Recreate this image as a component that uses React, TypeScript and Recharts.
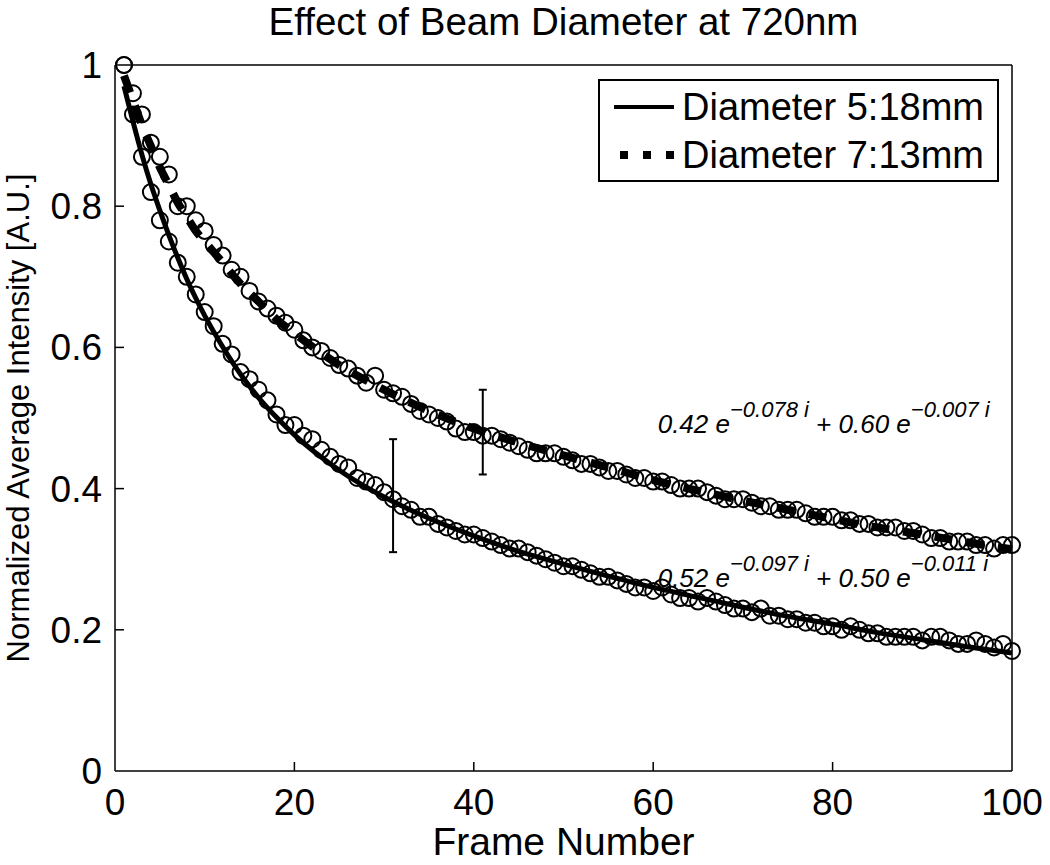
import React from 'react';
import {
  ComposedChart, Scatter, Line, XAxis, YAxis, Legend, ErrorBar, ReferenceDot,
} from 'recharts';

// frame index 1..100
const frames = Array.from({ length: 100 }, (_, i) => i + 1);

// measured intensity, beam diameter 5:18mm (lower curve)
const small = [
  1.0, 0.93, 0.87, 0.82, 0.78, 0.75, 0.72, 0.7, 0.675, 0.65,
  0.63, 0.605, 0.59, 0.565, 0.555, 0.54, 0.525, 0.505, 0.49, 0.49,
  0.475, 0.47, 0.455, 0.445, 0.435, 0.43, 0.415, 0.41, 0.405, 0.395,
  0.385, 0.375, 0.37, 0.36, 0.36, 0.35, 0.345, 0.34, 0.335, 0.335,
  0.33, 0.325, 0.32, 0.315, 0.315, 0.31, 0.305, 0.3, 0.295, 0.29,
  0.29, 0.285, 0.28, 0.275, 0.275, 0.27, 0.265, 0.26, 0.26, 0.255,
  0.26, 0.25, 0.245, 0.245, 0.24, 0.245, 0.24, 0.235, 0.23, 0.23,
  0.225, 0.23, 0.22, 0.22, 0.215, 0.215, 0.21, 0.21, 0.205, 0.205,
  0.2, 0.205, 0.2, 0.195, 0.195, 0.19, 0.19, 0.19, 0.19, 0.185,
  0.19, 0.19, 0.185, 0.18, 0.18, 0.185, 0.18, 0.175, 0.18, 0.17,
];

// measured intensity, beam diameter 7:13mm (upper curve)
const large = [
  1.0, 0.96, 0.93, 0.89, 0.87, 0.845, 0.8, 0.8, 0.78, 0.765,
  0.745, 0.73, 0.71, 0.7, 0.68, 0.665, 0.655, 0.645, 0.635, 0.625,
  0.61, 0.6, 0.595, 0.585, 0.575, 0.57, 0.56, 0.55, 0.56, 0.54,
  0.535, 0.53, 0.52, 0.51, 0.505, 0.5, 0.495, 0.485, 0.48, 0.48,
  0.475, 0.475, 0.47, 0.465, 0.46, 0.455, 0.45, 0.45, 0.45, 0.445,
  0.44, 0.435, 0.435, 0.43, 0.425, 0.425, 0.42, 0.415, 0.415, 0.41,
  0.41, 0.405, 0.4, 0.4, 0.4, 0.395, 0.39, 0.385, 0.385, 0.385,
  0.38, 0.375, 0.375, 0.37, 0.37, 0.37, 0.365, 0.36, 0.36, 0.36,
  0.355, 0.355, 0.35, 0.35, 0.345, 0.345, 0.345, 0.34, 0.34, 0.335,
  0.33, 0.33, 0.325, 0.325, 0.325, 0.32, 0.32, 0.315, 0.32, 0.32,
];

// fitted curves
const fitFrames = [1, 2, 3, 4, 5, 6, 7, 8, 9, 10, 12, 14, 16, 18, 20, 25, 30, 35, 40, 45, 50, 55, 60, 65, 70, 75, 80, 85, 90, 95, 100];
const fitSmall = [0.97, 0.92, 0.873, 0.831, 0.794, 0.759, 0.727, 0.697, 0.67, 0.645, 0.601, 0.562, 0.529, 0.501, 0.476, 0.426, 0.388, 0.358, 0.333, 0.311, 0.293, 0.276, 0.26, 0.246, 0.232, 0.219, 0.208, 0.196, 0.186, 0.176, 0.167];
const fitLarge = [0.985, 0.95, 0.915, 0.885, 0.855, 0.83, 0.805, 0.785, 0.765, 0.75, 0.72, 0.69, 0.665, 0.64, 0.62, 0.575, 0.54, 0.51, 0.485, 0.465, 0.447, 0.43, 0.412, 0.397, 0.383, 0.37, 0.357, 0.345, 0.335, 0.324, 0.314];

// error bars
const errFrames = [31, 41];
const errMid = [0.39, 0.48];
const errHalf = [0.08, 0.06];

const xTicks = [0, 20, 40, 60, 80, 100];
const yTicks = [0, 0.2, 0.4, 0.6, 0.8, 1];

const legendNames = ['Diameter 5:18mm', 'Diameter 7:13mm'];
const fitLabels = [
  { at: [60.5, 0.479], a: '0.42', k1: '\u22120.078 i', b: '0.60', k2: '\u22120.007 i' },
  { at: [60.5, 0.261], a: '0.52', k1: '\u22120.097 i', b: '0.50', k2: '\u22120.011 i' },
];

const smallPts = frames.map((f, i) => ({ x: f, y: small[i] }));
const largePts = frames.map((f, i) => ({ x: f, y: large[i] }));
const fitSmallPts = fitFrames.map((f, i) => ({ x: f, y: fitSmall[i] }));
const fitLargePts = fitFrames.map((f, i) => ({ x: f, y: fitLarge[i] }));
const errPts = errFrames.map((f, i) => ({ x: f, y: errMid[i], err: errHalf[i] }));

const FONT = '"Liberation Sans", Arial, Helvetica, sans-serif';
const TICK = 9;

const Ring = (p: any) => <circle cx={p.cx} cy={p.cy} r={8} fill="none" stroke="#000" strokeWidth={2} />;

const BottomTick = ({ x, y, payload }: any) => (
  <g>
    {payload.value > 0 && payload.value < 100 && <line x1={x} x2={x} y1={y} y2={y - TICK} stroke="#000" strokeWidth={1.5} />}
    <text x={x} y={y + 44} textAnchor="middle" fontSize={37} fill="#000">{payload.value}</text>
  </g>
);
const TopTick = ({ x, y, payload }: any) =>
  payload.value > 0 && payload.value < 100 ? <line x1={x} x2={x} y1={y} y2={y + TICK} stroke="#000" strokeWidth={1.5} /> : <g />;
const LeftTick = ({ x, y, payload }: any) => (
  <g>
    {payload.value > 0 && payload.value < 1 && <line x1={x} x2={x + TICK} y1={y} y2={y} stroke="#000" strokeWidth={1.5} />}
    <text x={x - 13} y={y + 13} textAnchor="end" fontSize={37} fill="#000">{payload.value}</text>
  </g>
);
const RightTick = ({ x, y, payload }: any) =>
  payload.value > 0 && payload.value < 1 ? <line x1={x} x2={x - TICK} y1={y} y2={y} stroke="#000" strokeWidth={1.5} /> : <g />;

const LegendBox = () => (
  <div style={{ width: 401, height: 103, border: '2px solid #000', boxSizing: 'border-box', background: '#fff', position: 'relative', fontSize: 38, fontFamily: FONT }}>
    {legendNames.map((name, i) => (
      <div key={name} style={{ position: 'absolute', left: 0, top: 4 + i * 48, height: 44, display: 'flex', alignItems: 'center', whiteSpace: 'nowrap' }}>
        <svg width={82} height={44}>
          <line x1={74} x2={14} y1={22} y2={22} stroke="#000" strokeWidth={i ? 8 : 4} strokeDasharray={i ? '8 15' : undefined} />
        </svg>
        <span style={{ lineHeight: '44px' }}>{name}</span>
      </div>
    ))}
  </div>
);

const fitLabel = (f: typeof fitLabels[number]) => ({ viewBox }: any) => (
  <text x={viewBox.x} y={viewBox.y} fontSize={26} fontStyle="italic" fill="#000" style={{ whiteSpace: 'pre' }}>
    <tspan>{`${f.a} e`}</tspan>
    <tspan dy={-16} fontSize={22}>{f.k1}</tspan>
    <tspan dy={16}>{` + ${f.b} e`}</tspan>
    <tspan dy={-16} fontSize={22}>{f.k2}</tspan>
  </text>
);

export default function App() {
  return (
    <div style={{ position: 'absolute', left: 0, top: 0, width: 1050, height: 865, background: '#fff', fontFamily: FONT }}>
      <ComposedChart width={1050} height={865} margin={{ top: 0, right: 0, bottom: 0, left: 0 }} style={{ fontFamily: FONT }}>
        <XAxis
          dataKey="x" type="number" domain={[0, 100]} ticks={xTicks} height={94}
          tickSize={0} tickMargin={0} tickLine={false} tick={<BottomTick />}
          axisLine={{ stroke: '#000', strokeWidth: 1.5 }}
          label={{ content: ({ viewBox }: any) => <text x={viewBox.x + viewBox.width / 2} y={855} textAnchor="middle" fontSize={39} fill="#000">Frame Number</text> }}
        />
        <XAxis
          xAxisId="top" orientation="top" dataKey="x" type="number" domain={[0, 100]} ticks={xTicks} height={65}
          tickSize={0} tickMargin={0} tickLine={false} tick={<TopTick />}
          axisLine={{ stroke: '#000', strokeWidth: 1.5 }}
          label={{ content: ({ viewBox }: any) => <text x={viewBox.x + viewBox.width / 2} y={35} textAnchor="middle" fontSize={38.5} fill="#000">Effect of Beam Diameter at 720nm</text> }}
        />
        <YAxis
          dataKey="y" type="number" domain={[0, 1]} ticks={yTicks} width={115}
          tickSize={0} tickMargin={0} tickLine={false} tick={<LeftTick />}
          axisLine={{ stroke: '#000', strokeWidth: 1.5 }}
          label={{ content: ({ viewBox }: any) => {
            const cy = viewBox.y + viewBox.height / 2;
            return <text x={29} y={cy} transform={`rotate(-90 29 ${cy})`} textAnchor="middle" fontSize={31} fill="#000">Normalized Average Intensity [A.U.]</text>;
          } }}
        />
        <YAxis
          yAxisId="right" orientation="right" dataKey="y" type="number" domain={[0, 1]} ticks={yTicks} width={38}
          tickSize={0} tickMargin={0} tickLine={false} tick={<RightTick />}
          axisLine={{ stroke: '#000', strokeWidth: 1.5 }}
        />
        <Legend
          layout="horizontal" verticalAlign="middle" align="center"
          content={<LegendBox />}
          wrapperStyle={{ left: 598, top: 79, width: 401, height: 103 }}
        />
        <Scatter name="small" data={smallPts} dataKey="y" shape={Ring} isAnimationActive={false} legendType="none" />
        <Scatter name="large" data={largePts} dataKey="y" shape={Ring} isAnimationActive={false} legendType="none" />
        <Line data={fitSmallPts} dataKey="y" type="monotone" stroke="#000" strokeWidth={5} dot={false} activeDot={false} isAnimationActive={false} legendType="none" />
        <Line data={fitLargePts} dataKey="y" type="monotone" stroke="#000" strokeWidth={8} strokeDasharray="18 14" dot={false} activeDot={false} isAnimationActive={false} legendType="none" />
        <Scatter data={errPts} dataKey="y" shape={() => <g />} isAnimationActive={false} legendType="none">
          <ErrorBar dataKey="err" direction="y" width={4} stroke="#000" strokeWidth={2} isAnimationActive={false} />
        </Scatter>
        {fitLabels.map((f) => (
          <ReferenceDot key={f.a} x={f.at[0]} y={f.at[1]} r={0} fill="none" stroke="none" label={{ content: fitLabel(f) }} />
        ))}
      </ComposedChart>
    </div>
  );
}
